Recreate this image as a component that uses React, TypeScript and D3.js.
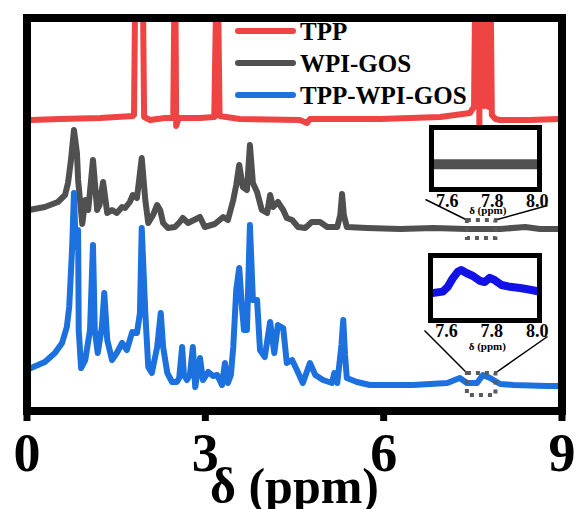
import React from 'react'
import * as d3 from 'd3'

// chart size
const W = 578
const H = 509

// axis
const xTicks = [0, 3, 6, 9]
const xLabel = 'δ (ppm)'

// legend
const names = ['TPP', 'WPI-GOS', 'TPP-WPI-GOS']
const colors = ['#ef4444', '#505050', '#1c71de']

// stacked spectra: [ppm, intensity a.u.]
const tpp: [number, number][] = [
  [0.03, 291], [0.55, 292], [1.23, 293], [1.78, 295], [1.80, 296], [1.83, 480], [1.94, 480], [1.97, 294],
  [2.07, 291], [2.32, 293], [2.46, 293], [2.49, 480], [2.51, 285], [2.55, 293], [2.91, 293], [3.15, 294],
  [3.20, 480], [3.24, 295], [3.58, 292], [4.59, 291], [4.71, 288], [4.76, 292], [5.94, 292], [6.95, 294],
  [7.45, 298], [7.52, 304], [7.55, 480], [7.57, 305], [7.59, 480], [7.61, 286], [7.63, 480], [7.65, 306],
  [7.67, 480], [7.69, 305], [7.71, 480], [7.73, 306], [7.75, 480], [7.77, 304], [7.79, 480], [7.82, 296],
  [7.88, 292], [7.96, 291], [8.46, 291], [8.97, 292]
]

const wpiGos: [number, number][] = [
  [0.03, 201], [0.30, 204], [0.52, 209], [0.64, 216], [0.69, 228], [0.74, 251], [0.79, 281], [0.84, 258],
  [0.86, 231], [0.93, 187], [0.98, 211], [1.03, 201], [1.11, 251], [1.18, 201], [1.22, 206], [1.28, 229],
  [1.35, 198], [1.43, 201], [1.51, 198], [1.60, 204], [1.65, 203], [1.73, 209], [1.78, 216], [1.85, 213],
  [1.93, 253], [1.99, 211], [2.04, 188], [2.12, 196], [2.19, 206], [2.24, 201], [2.29, 188], [2.37, 183],
  [2.49, 184], [2.57, 189], [2.62, 193], [2.71, 188], [2.91, 194], [2.99, 184], [3.16, 187], [3.30, 194],
  [3.38, 191], [3.47, 211], [3.52, 226], [3.57, 246], [3.63, 224], [3.70, 221], [3.75, 266], [3.80, 228],
  [3.87, 219], [3.95, 201], [4.04, 198], [4.09, 216], [4.14, 204], [4.22, 209], [4.31, 201], [4.37, 193],
  [4.46, 191], [4.56, 184], [4.68, 183], [4.79, 189], [4.93, 189], [5.05, 184], [5.22, 184], [5.27, 196],
  [5.30, 217], [5.33, 196], [5.38, 184], [5.72, 183], [6.28, 182], [6.83, 183], [7.40, 182], [7.96, 182],
  [8.38, 184], [8.63, 182], [8.97, 182]
]

const tppWpiGos: [number, number][] = [
  [0.03, 42], [0.30, 49], [0.47, 58], [0.59, 68], [0.67, 84], [0.71, 104], [0.76, 164], [0.79, 218],
  [0.82, 164], [0.86, 181], [0.87, 81], [0.91, 43], [0.98, 51], [1.06, 81], [1.11, 166], [1.14, 81],
  [1.19, 58], [1.26, 84], [1.30, 118], [1.35, 71], [1.43, 51], [1.51, 58], [1.60, 68], [1.68, 61],
  [1.77, 79], [1.85, 78], [1.90, 98], [1.93, 183], [1.99, 98], [2.04, 44], [2.10, 38], [2.19, 64],
  [2.25, 98], [2.29, 64], [2.36, 38], [2.44, 29], [2.52, 29], [2.56, 33], [2.61, 64], [2.64, 36],
  [2.69, 31], [2.74, 36], [2.79, 64], [2.83, 24], [2.86, 36], [2.91, 53], [2.96, 31], [3.05, 39],
  [3.13, 35], [3.20, 36], [3.28, 26], [3.33, 48], [3.38, 28], [3.43, 36], [3.47, 64], [3.52, 121],
  [3.57, 143], [3.62, 101], [3.65, 81], [3.70, 81], [3.75, 186], [3.80, 111], [3.87, 111], [3.92, 61],
  [4.00, 54], [4.09, 89], [4.16, 58], [4.22, 86], [4.31, 83], [4.37, 48], [4.46, 51], [4.54, 41],
  [4.64, 28], [4.76, 48], [4.85, 36], [4.98, 31], [5.13, 28], [5.17, 38], [5.22, 28], [5.29, 66],
  [5.32, 91], [5.35, 56], [5.38, 33], [5.55, 29], [5.77, 26], [6.49, 26], [7.07, 28], [7.28, 33],
  [7.40, 28], [7.57, 28], [7.67, 36], [7.79, 33], [7.96, 27], [8.18, 26], [8.75, 25], [8.97, 25]
]

// zoomed regions 7.53 - 8.01 ppm
const insetTicks = [7.6, 7.8, 8.0]
const wpiGosZoom: [number, number][] = [[7.53, 0.4], [7.7, 0.4], [7.85, 0.4], [8.01, 0.4]]
const tppWpiGosZoom: [number, number][] = [
  [7.53, 0.41], [7.584, 0.44], [7.606, 0.52], [7.628, 0.66], [7.65, 0.77], [7.665, 0.8], [7.688, 0.75],
  [7.717, 0.7], [7.747, 0.62], [7.769, 0.6], [7.791, 0.67], [7.813, 0.63], [7.843, 0.55], [7.88, 0.52],
  [7.924, 0.5], [7.969, 0.47], [8.01, 0.44]
]
const zoomRange = [7.4, 7.88]

const plot = { left: 27, right: 562, top: 18, bottom: 411 }

const xScale = d3.scaleLinear().domain([0, 9]).range([plot.left, plot.right])
const yScale = d3.scaleLinear().domain([0, 393]).range([plot.bottom, plot.top])

const mainLine = d3.line<[number, number]>()
  .x(d => xScale(d[0]))
  .y(d => yScale(d[1]))

const insets = [
  { id: 'a', box: [431.5, 127.5, 539.5, 189.5], data: wpiGosZoom, color: '#505050', width: 10,
    base: 182, half: 9, tickY: 207, unitY: 214 },
  { id: 'b', box: [430.5, 255.5, 539.5, 320.5], data: tppWpiGosZoom, color: '#1212e6', width: 8,
    base: 27, half: 11, tickY: 337, unitY: 350 }
]

const font = '"Liberation Serif", "Times New Roman", serif'

const Inset = ({ inset }: { inset: typeof insets[number] }) => {
  const [x0, y0, x1, y1] = inset.box
  const ix = d3.scaleLinear().domain([7.53, 8.01]).range([x0, x1])
  const iy = d3.scaleLinear().domain([0, 1]).range([y1 - 2.5, y0 + 2.5])
  const ln = d3.line<[number, number]>().x(d => ix(d[0])).y(d => iy(d[1]))
  const rx0 = xScale(zoomRange[0])
  const rx1 = xScale(zoomRange[1])
  const ry = yScale(inset.base)
  return (
    <g>
      <clipPath id={'clip-' + inset.id}>
        <rect x={x0 + 2.5} y={y0 + 2.5} width={x1 - x0 - 5} height={y1 - y0 - 5} />
      </clipPath>
      <rect x={x0} y={y0} width={x1 - x0} height={y1 - y0} fill="white" stroke="black" strokeWidth={5} />
      <path d={ln(inset.data) || ''} fill="none" stroke={inset.color} strokeWidth={inset.width}
        strokeLinejoin="round" clipPath={`url(#clip-${inset.id})`} />
      {insetTicks.map(t => (
        <text key={t} x={ix(t)} y={inset.tickY} textAnchor="middle" fontFamily={font}
          fontWeight="bold" fontSize={18}>{t.toFixed(1)}</text>
      ))}
      <text x={ix(7.78)} y={inset.unitY} textAnchor="middle" fontFamily={font} fontWeight="bold"
        fontSize={11}>{xLabel}</text>
      <line x1={x0 - 6} y1={y1 + 10} x2={rx0} y2={ry - inset.half} stroke="black" strokeWidth={1.5} />
      <line x1={x1 + 8} y1={y1 + 16} x2={rx1} y2={ry - inset.half} stroke="black" strokeWidth={1.5} />
      <rect x={rx0} y={ry - inset.half} width={rx1 - rx0} height={inset.half * 2} fill="none"
        stroke="#5a5a5a" strokeWidth={4} strokeDasharray="4 5" />
    </g>
  )
}

export default function App() {
  const series = [tpp, wpiGos, tppWpiGos]
  const legendX = 235
  const legendY = [31, 63, 95]
  return (
    <svg width={W} height={H} style={{ position: 'absolute', left: 0, top: 0, background: 'white' }}>
      <clipPath id="plotClip">
        <rect x={plot.left + 4} y={plot.top + 4} width={plot.right - plot.left - 8}
          height={plot.bottom - plot.top - 8} />
      </clipPath>
      <g clipPath="url(#plotClip)">
        {series.map((s, i) => (
          <path key={names[i]} d={mainLine(s) || ''} fill="none" stroke={colors[i]} strokeWidth={6}
            strokeLinejoin="round" strokeLinecap="round" />
        ))}
      </g>

      {/* legend */}
      {names.map((n, i) => (
        <g key={n}>
          <line x1={legendX + 3} x2={legendX + 58} y1={legendY[i]} y2={legendY[i]} stroke={colors[i]}
            strokeWidth={6} strokeLinecap="round" />
          <text x={legendX + 65} y={legendY[i] + 9} fontFamily={font} fontWeight="bold" fontSize={25}>{n}</text>
        </g>
      ))}

      {insets.map(ins => <Inset key={ins.id} inset={ins} />)}

      {/* frame */}
      <rect x={plot.left} y={plot.top} width={plot.right - plot.left} height={plot.bottom - plot.top}
        fill="none" stroke="black" strokeWidth={8} />
      {xTicks.map(t => (
        <g key={t}>
          <line x1={xScale(t)} x2={xScale(t)} y1={plot.bottom} y2={plot.bottom + 10} stroke="black" strokeWidth={7} />
          <text x={xScale(t)} y={471} textAnchor="middle" fontFamily={font} fontWeight="bold"
            fontSize={54}>{t}</text>
        </g>
      ))}
      <text x={(plot.left + plot.right) / 2} y={503} textAnchor="middle" fontFamily={font}
        fontWeight="bold" fontSize={50}>{xLabel}</text>
    </svg>
  )
}
